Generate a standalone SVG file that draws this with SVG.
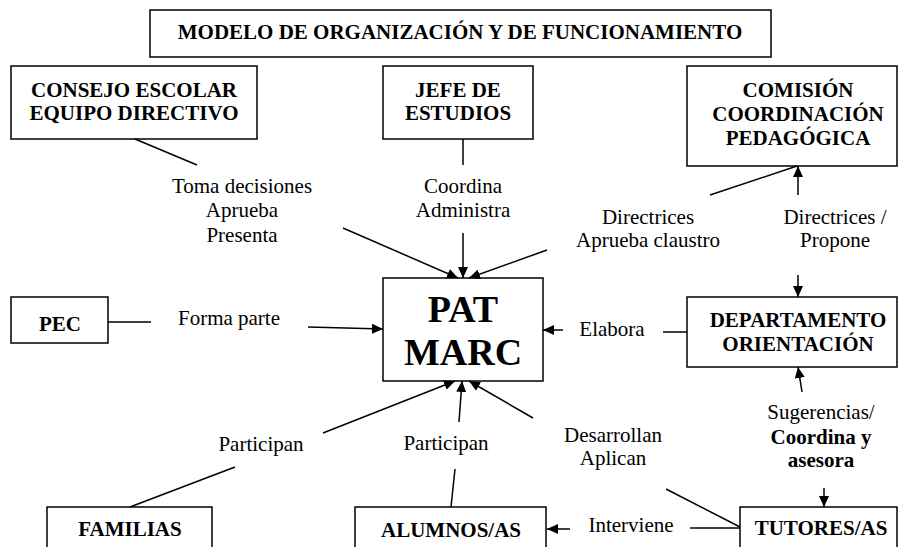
<svg xmlns="http://www.w3.org/2000/svg" width="899" height="547" viewBox="0 0 899 547" font-family="Liberation Serif">
<defs>
<marker id="ah" markerUnits="userSpaceOnUse" markerWidth="11" markerHeight="10" refX="11" refY="5" orient="auto">
<path d="M0,0 L11,5 L0,10 z" fill="#000"/>
</marker>
<style>
text{fill:#000;text-anchor:middle;font-family:'Liberation Serif',serif}
.box{fill:#fff;stroke:#000;stroke-width:1.5}
.nt{font-weight:bold;font-size:21px}
.lt{font-size:21px}
.big{font-weight:bold;font-size:38px}
.ln{stroke:#000;stroke-width:1.5;fill:none}
.ar{stroke:#000;stroke-width:1.5;fill:none;marker-end:url(#ah)}
</style>
</defs>
<rect width="899" height="547" fill="#fff"/>
<g id="title">
<rect class="box" x="150" y="10" width="621" height="47"/>
<text class="nt" x="460" y="39" font-family="Liberation Serif">MODELO DE ORGANIZACIÓN Y DE FUNCIONAMIENTO</text>
</g>
<g id="consejo">
<rect class="box" x="11" y="66" width="246" height="73"/>
<text class="nt" x="134" y="97" font-family="Liberation Serif">CONSEJO ESCOLAR</text>
<text class="nt" x="134" y="120" font-family="Liberation Serif">EQUIPO DIRECTIVO</text>
</g>
<g id="jefe">
<rect class="box" x="383" y="66" width="150" height="73"/>
<text class="nt" x="458" y="97" font-family="Liberation Serif">JEFE DE</text>
<text class="nt" x="458" y="120" font-family="Liberation Serif">ESTUDIOS</text>
</g>
<g id="comision">
<rect class="box" x="687" y="66" width="210" height="100"/>
<text class="nt" x="798" y="97" font-family="Liberation Serif">COMISIÓN</text>
<text class="nt" x="798" y="121" font-family="Liberation Serif">COORDINACIÓN</text>
<text class="nt" x="798" y="145" font-family="Liberation Serif">PEDAGÓGICA</text>
</g>
<g id="pec">
<rect class="box" x="11" y="297" width="97" height="46"/>
<text class="nt" x="60" y="331" font-family="Liberation Serif">PEC</text>
</g>
<g id="pat">
<rect class="box" x="383" y="278" width="160" height="103"/>
<text class="big" x="463" y="322" font-family="Liberation Serif">PAT</text>
<text class="big" x="463" y="365" font-family="Liberation Serif">MARC</text>
</g>
<g id="departamento">
<rect class="box" x="687" y="297" width="210" height="70"/>
<text class="nt" x="798" y="327" font-family="Liberation Serif">DEPARTAMENTO</text>
<text class="nt" x="798" y="351" font-family="Liberation Serif">ORIENTACIÓN</text>
</g>
<g id="familias">
<rect class="box" x="47" y="507" width="165" height="50"/>
<text class="nt" x="130" y="536" font-family="Liberation Serif">FAMILIAS</text>
</g>
<g id="alumnos">
<rect class="box" x="355" y="507" width="191" height="50"/>
<text class="nt" x="451" y="537" font-family="Liberation Serif">ALUMNOS/AS</text>
</g>
<g id="tutores">
<rect class="box" x="740" y="507" width="157" height="50"/>
<text class="nt" x="821" y="535" font-family="Liberation Serif">TUTORES/AS</text>
</g>

<g id="connectors">
<line class="ln" x1="135" y1="139" x2="197" y2="165"/>
<line class="ar" x1="343" y1="228" x2="458" y2="278"/>
<line class="ln" x1="463" y1="139" x2="463" y2="165"/>
<line class="ar" x1="463" y1="233" x2="463" y2="278"/>
<line class="ar" x1="547" y1="250" x2="469" y2="278"/>
<line class="ln" x1="710" y1="195" x2="797" y2="166"/>
<line class="ar" x1="798" y1="195" x2="798" y2="166"/>
<line class="ar" x1="798" y1="275" x2="798" y2="297"/>
<line class="ln" x1="108" y1="322" x2="151" y2="322"/>
<line class="ar" x1="308" y1="327" x2="383" y2="329"/>
<line class="ln" x1="663" y1="332" x2="687" y2="332"/>
<line class="ar" x1="563" y1="330" x2="543" y2="330"/>
<line class="ln" x1="130" y1="507" x2="235" y2="467"/>
<line class="ar" x1="323" y1="433" x2="455" y2="381"/>
<line class="ln" x1="451" y1="507" x2="455" y2="469"/>
<line class="ar" x1="459" y1="422" x2="462" y2="381"/>
<line class="ar" x1="533" y1="418" x2="469" y2="381"/>
<line class="ln" x1="666" y1="489" x2="740" y2="527"/>
<line class="ln" x1="690" y1="528" x2="740" y2="528"/>
<line class="ar" x1="570" y1="529" x2="547" y2="529"/>
<line class="ar" x1="802" y1="392" x2="798" y2="367"/>
<line class="ar" x1="824" y1="488" x2="824" y2="507"/>
</g>

<g id="labels">
<text class="lt" x="242" y="193" font-family="Liberation Serif">Toma decisiones</text>
<text class="lt" x="242" y="217" font-family="Liberation Serif">Aprueba</text>
<text class="lt" x="242" y="242" font-family="Liberation Serif">Presenta</text>
<text class="lt" x="463" y="193" font-family="Liberation Serif">Coordina</text>
<text class="lt" x="463" y="217" font-family="Liberation Serif">Administra</text>
<text class="lt" x="648" y="224" font-family="Liberation Serif">Directrices</text>
<text class="lt" x="648" y="247" font-family="Liberation Serif">Aprueba claustro</text>
<text class="lt" x="835" y="224" font-family="Liberation Serif">Directrices /</text>
<text class="lt" x="835" y="247" font-family="Liberation Serif">Propone</text>
<text class="lt" x="229" y="325" font-family="Liberation Serif">Forma parte</text>
<text class="lt" x="612" y="336" font-family="Liberation Serif">Elabora</text>
<text class="lt" x="261" y="451" font-family="Liberation Serif">Participan</text>
<text class="lt" x="446" y="450" font-family="Liberation Serif">Participan</text>
<text class="lt" x="613" y="442" font-family="Liberation Serif">Desarrollan</text>
<text class="lt" x="613" y="465" font-family="Liberation Serif">Aplican</text>
<text class="lt" x="631" y="532" font-family="Liberation Serif">Interviene</text>
<text class="lt" x="821" y="419" font-family="Liberation Serif">Sugerencias/</text>
<text class="nt" x="821" y="444" font-family="Liberation Serif">Coordina y</text>
<text class="nt" x="821" y="467" font-family="Liberation Serif">asesora</text>
</g>
</svg>
